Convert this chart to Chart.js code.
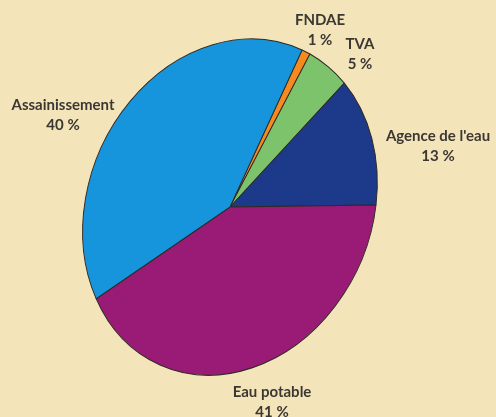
<!DOCTYPE html>
<html>
<head>
<meta charset="utf-8">
<script src="https://cdn.jsdelivr.net/npm/chart.js@4.4.0/dist/chart.umd.min.js"></script>
<style>
  html, body { margin: 0; padding: 0; background: #f4e4ba; }
  #wrap { width: 496px; height: 417px; position: relative; }
</style>
</head>
<body>
<div id="wrap"><canvas id="pie"></canvas></div>
<script>
// donnees (sens horaire depuis le haut)
const labels = ["FNDAE", "TVA", "Agence de l'eau", "Eau potable", "Assainissement"];
const values = [1, 5, 13, 41, 40];
const colors = ["#f58a1f", "#7dc36b", "#1d3a8a", "#9a1b76", "#1795dc"];

// position du texte des etiquettes (centre du bloc de 2 lignes)
const labelPos = [[320, 30], [360, 54], [438, 146], [272, 402], [63, 115]];

// l'image est une ellipse un peu penchee : matrice appliquee au cercle unite
const ellipse = { a: 144.5, b: 8.6, c: -28.8, d: 167.9 };

const ellipsePlugin = {
  id: "ellipse",
  beforeDatasetsDraw(chart) {
    const arc = chart.getDatasetMeta(0).data[0];
    const r = arc.outerRadius;
    const ctx = chart.ctx;
    ctx.save();
    ctx.translate(arc.x, arc.y);
    ctx.transform(ellipse.a / r, ellipse.b / r, ellipse.c / r, ellipse.d / r, 0, 0);
    ctx.translate(-arc.x, -arc.y);
  },
  afterDatasetsDraw(chart) {
    chart.ctx.restore();
  },
  afterDraw(chart) {
    const ctx = chart.ctx;
    ctx.save();
    ctx.fillStyle = "#3b3833";
    ctx.font = "bold 15px Lato";
    ctx.textAlign = "center";
    ctx.textBaseline = "middle";
    labels.forEach(function (lab, i) {
      const p = labelPos[i];
      ctx.fillText(lab, p[0], p[1] - 10);
      ctx.fillText(values[i] + " %", p[0], p[1] + 10);
    });
    ctx.restore();
  }
};

new Chart(document.getElementById("pie"), {
  type: "pie",
  data: {
    labels: labels,
    datasets: [{
      data: values,
      backgroundColor: colors,
      borderColor: "#2e2a26",
      borderWidth: 1.2
    }]
  },
  options: {
    responsive: true,
    maintainAspectRatio: false,
    animation: false,
    rotation: 18,
    layout: { padding: { left: 20, right: 56, top: 20, bottom: 23 } },
    plugins: {
      legend: { display: false },
      tooltip: { enabled: false }
    },
    events: []
  },
  plugins: [ellipsePlugin]
});
</script>
</body>
</html>
